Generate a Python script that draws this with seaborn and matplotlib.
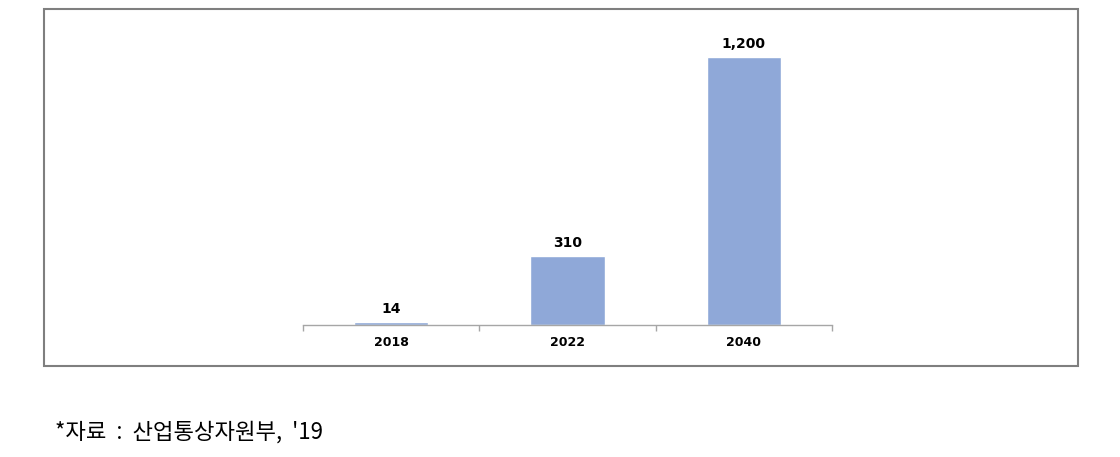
import matplotlib
matplotlib.use("Agg")
import matplotlib.pyplot as plt
import matplotlib.patches as mpatches
import seaborn as sns
import pandas as pd

years = ["2018", "2022", "2040"]
values = [14, 310, 1200]
value_labels = ["14", "310", "1,200"]
source_note = "*자료  :  산업통상자원부,  '19"

sns.set_theme(style="white")
plt.rcParams['font.family'] = ['DejaVu Sans', 'Noto Sans CJK KR']
plt.rcParams['text.color'] = 'black'

W, H = 1120, 457
fig = plt.figure(figsize=(W / 100, H / 100), dpi=100)

# outer frame
fig.patches.append(mpatches.Rectangle((44 / W, 1 - 366 / H), (1078 - 44) / W, (366 - 9) / H,
                                      transform=fig.transFigure, fill=False,
                                      edgecolor="#7f7f7f", linewidth=1.5))

ax = fig.add_axes([303 / W, 1 - 325 / H, (832 - 303) / W, (325 - 20) / H])
df = pd.DataFrame({"year": years, "value": values})
sns.barplot(data=df, x="year", y="value", color="#8FA8D8", saturation=1,
            width=0.42, ax=ax)

ax.set_xlim(-0.5, 2.5)
ax.set_ylim(0, 1366)
for s in ["top", "right", "left"]:
    ax.spines[s].set_visible(False)
ax.spines["bottom"].set_color("#a6a6a6")
ax.spines["bottom"].set_linewidth(1.0)
ax.set_yticks([])
ax.set_xlabel("")
ax.set_ylabel("")
ax.set_xticks(range(len(years)))
ax.set_xticklabels(years, fontweight="bold", fontsize=9, color="black", family="DejaVu Sans")
ax.tick_params(axis="x", which="major", length=0, pad=8)
ax.set_xticks([-0.5, 0.5, 1.5, 2.5], minor=True)
ax.tick_params(axis="x", which="minor", length=4, color="#a6a6a6", direction="out", bottom=True)

for i, (v, lab) in enumerate(zip(values, value_labels)):
    ax.annotate(lab, (i, v), xytext=(0, 4.5), textcoords="offset points",
                ha="center", va="bottom", fontweight="bold", fontsize=10,
                color="black", family="DejaVu Sans")

fig.text(55 / W, 1 - 432 / H, source_note, fontsize=16, va="center", ha="left",
         color="black", family=["Noto Sans CJK KR", "DejaVu Sans"])

fig.savefig("out.png", dpi=100)
